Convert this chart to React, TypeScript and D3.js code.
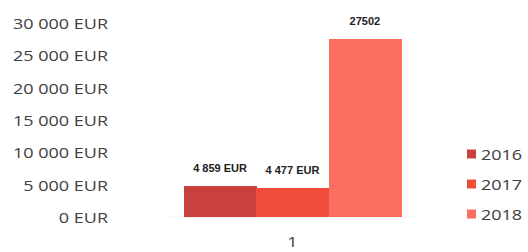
import * as d3 from "d3";
import React from "react";

const categories = ["1"];
const years = ["2016", "2017", "2018"];
const values = [4859, 4477, 27502];
const valueLabels = ["4 859 EUR", "4 477 EUR", "27502"];
const colors = ["#c8413e", "#f04b3b", "#fc6e5f"];
const yTicks = [0, 5000, 10000, 15000, 20000, 25000, 30000];

const W = 528;
const H = 252;

const fmtEur = (v: number) =>
	d3.format(",")(v).replace(/,/g, " ") + " EUR";

const App = () => {
	const y = d3.scaleLinear().domain([0, 30000]).range([217, 23]);
	const x0 = d3
		.scaleBand()
		.domain(categories)
		.range([160, 425])
		.paddingOuter(0.11);
	const x1 = d3.scaleBand().domain(years).range([0, x0.bandwidth()]);

	const font = "'Open Sans', sans-serif";

	return (
		<svg
			width={W}
			height={H}
			style={{ position: "absolute", left: 0, top: 0 }}
		>
			<rect width={W} height={H} fill="#fff" />
			{/* y axis labels */}
			{yTicks.map((t) => (
				<text
					key={t}
					transform={`translate(108,${y(t)}) scale(1.2,1)`}
					textAnchor="end"
					dominantBaseline="central"
					fontFamily={font}
					fontSize={15}
					fill="#404040"
				>
					{fmtEur(t)}
				</text>
			))}
			<line x1={170} x2={415} y1={y(0)} y2={y(0)} stroke="#f0f0f0" />
			{categories.map((c) => (
				<g key={c} transform={`translate(${x0(c)},0)`}>
					{values.map((v, i) => (
						<g key={years[i]}>
							<rect
								x={x1(years[i])}
								y={y(v)}
								width={x1.bandwidth() + 0.5}
								height={y(0) - y(v)}
								fill={colors[i]}
								shapeRendering="crispEdges"
							/>
							<text
								transform={`translate(${(x1(years[i]) ?? 0) + x1.bandwidth() / 2},${y(v) - 14}) scale(1.05,1)`}
								textAnchor="middle"
								fontFamily="'Liberation Sans', Arial, sans-serif"
								fontWeight="bold"
								fontSize={10.5}
								fill="#222"
							>
								{valueLabels[i]}
							</text>
						</g>
					))}
					<text
						transform={`translate(${x0.bandwidth() / 2},${y(0) + 24}) scale(1.2,1)`}
						textAnchor="middle"
						dominantBaseline="central"
						fontFamily={font}
						fontSize={15}
						fill="#404040"
					>
						{c}
					</text>
				</g>
			))}
			{/* legend */}
			{years.map((yr, i) => (
				<g key={yr} transform={`translate(467,${154 + i * 30})`}>
					<rect x={0} y={-4.5} width={9} height={9} fill={colors[i]} />
					<text
						transform="translate(14,0) scale(1.2,1)"
						dominantBaseline="central"
						fontFamily={font}
						fontSize={15}
						fill="#404040"
					>
						{yr}
					</text>
				</g>
			))}
		</svg>
	);
};

export default App;
